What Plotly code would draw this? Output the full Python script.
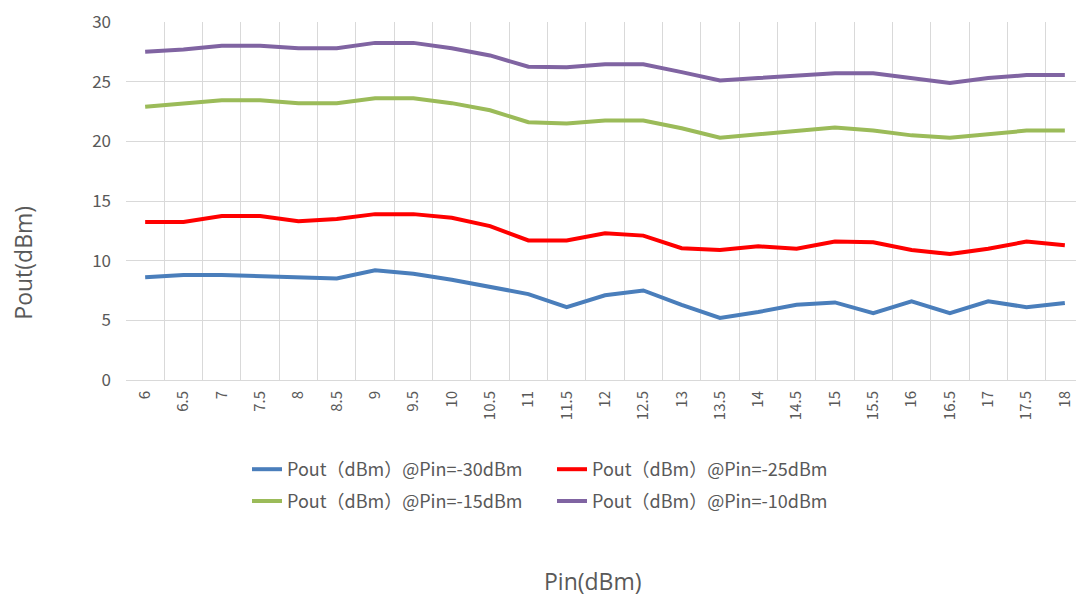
import plotly.graph_objects as go

pin_labels = ["6", "6.5", "7", "7.5", "8", "8.5", "9", "9.5", "10", "10.5", "11", "11.5",
              "12", "12.5", "13", "13.5", "14", "14.5", "15", "15.5", "16", "16.5", "17", "17.5", "18"]

pout_m30 = [8.6, 8.8, 8.8, 8.7, 8.6, 8.5, 9.2, 8.9, 8.4, 7.8, 7.2, 6.1,
            7.1, 7.5, 6.3, 5.2, 5.7, 6.3, 6.5, 5.6, 6.6, 5.6, 6.6, 6.1, 6.45]
pout_m25 = [13.25, 13.25, 13.75, 13.75, 13.3, 13.5, 13.9, 13.9, 13.6, 12.9, 11.7, 11.7,
            12.3, 12.1, 11.05, 10.9, 11.2, 11.0, 11.6, 11.55, 10.9, 10.55, 11.0, 11.6, 11.3]
pout_m15 = [22.9, 23.2, 23.45, 23.45, 23.2, 23.2, 23.6, 23.6, 23.2, 22.6, 21.6, 21.5,
            21.75, 21.75, 21.1, 20.3, 20.6, 20.85, 21.15, 20.9, 20.5, 20.3, 20.6, 20.9, 20.9]
pout_m10 = [27.5, 27.7, 28.0, 28.0, 27.8, 27.8, 28.25, 28.25, 27.8, 27.2, 26.25, 26.2,
            26.45, 26.45, 25.8, 25.1, 25.3, 25.5, 25.7, 25.7, 25.3, 24.9, 25.3, 25.55, 25.55]

series_names = ["Pout（dBm）@Pin=-30dBm", "Pout（dBm）@Pin=-25dBm",
                "Pout（dBm）@Pin=-15dBm", "Pout（dBm）@Pin=-10dBm"]
series_values = [pout_m30, pout_m25, pout_m15, pout_m10]
colors = ["#4A7EBB", "#FF0000", "#9BBB59", "#8064A2"]
legend_ids = ["legend", "legend", "legend2", "legend2"]

W, H = 1076, 590
L, T, B, R = 118, 12, 218, 0
PW, PH = W - L - R, H - T - B


def px(xpage):
    return (xpage - 8 - L) / PW


def py(ypage):
    return (T + PH - (ypage - 8)) / PH


fig = go.Figure()
for name, vals, col, lg in zip(series_names, series_values, colors, legend_ids):
    fig.add_trace(go.Scatter(x=pin_labels, y=vals, name=name, mode="lines",
                             line=dict(color=col, width=4), legend=lg))

tick_font = dict(family="Noto Sans CJK SC", size=15, color="#595959")
leg_font = dict(family="Noto Sans CJK SC", size=18, color="#595959")
title_font = dict(family="Open Sans", size=23, color="#595959")

fig.update_layout(
    width=W, height=H,
    paper_bgcolor="white", plot_bgcolor="white",
    margin=dict(l=L, r=R, t=T, b=B, pad=0),
    showlegend=True,
    legend=dict(orientation="h", x=px(247), xanchor="left", y=py(470), yanchor="middle",
                font=leg_font, tracegroupgap=0, bgcolor="rgba(0,0,0,0)",
                entrywidth=260, entrywidthmode="pixels"),
    legend2=dict(orientation="h", x=px(247), xanchor="left", y=py(502), yanchor="middle",
                 font=leg_font, tracegroupgap=0, bgcolor="rgba(0,0,0,0)",
                 entrywidth=260, entrywidthmode="pixels"),
    xaxis=dict(type="category", tickangle=-90, tickfont=tick_font,
               showgrid=True, gridcolor="#D9D9D9", gridwidth=1,
               tickson="boundaries", ticks="", showline=True, linecolor="#D9D9D9",
               range=[-0.5, 24.5], ticklabelstandoff=4),
    yaxis=dict(range=[0, 30], dtick=5, tickfont=dict(family="Noto Sans CJK SC", size=17, color="#595959"),
               showgrid=True, gridcolor="#D9D9D9", gridwidth=1, zeroline=False,
               showline=False, ticks="", ticklabelstandoff=14, ticklabeloverflow="allow"),
    annotations=[
        dict(text="Pout(dBm)", x=px(23), y=py(262), xref="paper", yref="paper",
             showarrow=False, textangle=-90, xanchor="center", yanchor="middle",
             font=title_font),
        dict(text="Pin(dBm)", x=px(593), y=py(582), xref="paper", yref="paper",
             showarrow=False, xanchor="center", yanchor="middle",
             font=title_font),
    ],
)

fig.write_html("out.html")
